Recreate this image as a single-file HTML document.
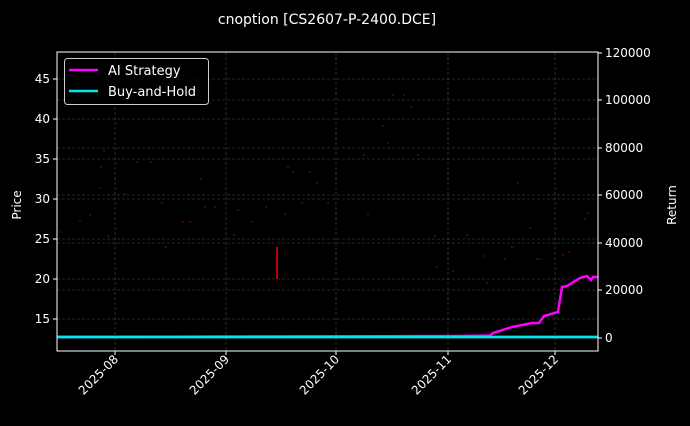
<!DOCTYPE html>
<html><head><style>
body{margin:0;background:#000;}
svg text{font-family:"DejaVu Sans","Liberation Sans",sans-serif;fill:#fff;}
</style></head><body>
<svg width="690" height="421" viewBox="0 0 690 421" xmlns="http://www.w3.org/2000/svg">
<rect width="690" height="421" fill="#000"/>
<text x="327" y="24" font-size="14" text-anchor="middle">cnoption [CS2607-P-2400.DCE]</text>
<g stroke="#4a4a4a" stroke-width="0.6" stroke-dasharray="3,2">
<line x1="57" x2="598" y1="79" y2="79"/><line x1="57" x2="598" y1="119" y2="119"/>
<line x1="57" x2="598" y1="159" y2="159"/><line x1="57" x2="598" y1="199" y2="199"/>
<line x1="57" x2="598" y1="239" y2="239"/><line x1="57" x2="598" y1="279" y2="279"/>
<line x1="57" x2="598" y1="319" y2="319"/>
<line x1="57" x2="598" y1="100" y2="100"/><line x1="57" x2="598" y1="148" y2="148"/>
<line x1="57" x2="598" y1="195" y2="195"/><line x1="57" x2="598" y1="243" y2="243"/>
<line x1="57" x2="598" y1="290" y2="290"/>
<line x1="115" x2="115" y1="52" y2="351"/><line x1="226" x2="226" y1="52" y2="351"/>
<line x1="336" x2="336" y1="52" y2="351"/><line x1="448" x2="448" y1="52" y2="351"/>
<line x1="555" x2="555" y1="52" y2="351"/>
</g>
<g fill="#5a0a0a">
<circle cx="61" cy="232" r="1"/><circle cx="80" cy="221" r="1"/><circle cx="90" cy="215" r="1"/><circle cx="100" cy="188" r="1"/><circle cx="101" cy="167" r="1"/><circle cx="104" cy="151" r="1"/><circle cx="108" cy="236" r="1"/><circle cx="115" cy="183" r="1"/><circle cx="125" cy="194" r="1"/><circle cx="137" cy="162" r="1"/><circle cx="151" cy="162" r="1"/><circle cx="162" cy="203" r="1"/><circle cx="166" cy="247" r="1"/><circle cx="183" cy="222" r="1"/><circle cx="190" cy="222" r="1"/><circle cx="201" cy="179" r="1"/><circle cx="205" cy="207" r="1"/><circle cx="215" cy="207" r="1"/><circle cx="226" cy="219" r="1"/><circle cx="234" cy="235" r="1"/><circle cx="238" cy="210" r="1"/><circle cx="252" cy="222" r="1"/><circle cx="266" cy="207" r="1"/><circle cx="285" cy="214" r="1"/><circle cx="288" cy="167" r="1"/><circle cx="293" cy="172" r="1"/><circle cx="302" cy="203" r="1"/><circle cx="310" cy="172" r="1"/><circle cx="317" cy="183" r="1"/><circle cx="328" cy="203" r="1"/><circle cx="364" cy="155" r="1"/><circle cx="368" cy="214" r="1"/><circle cx="383" cy="126" r="1"/><circle cx="388" cy="143" r="1"/><circle cx="393" cy="95" r="1"/><circle cx="404" cy="95" r="1"/><circle cx="411" cy="107" r="1"/><circle cx="418" cy="155" r="1"/><circle cx="435" cy="236" r="1"/><circle cx="437" cy="267" r="1"/><circle cx="453" cy="271" r="1"/><circle cx="465" cy="199" r="1"/><circle cx="467" cy="235" r="1"/><circle cx="483" cy="256" r="1"/><circle cx="487" cy="283" r="1"/><circle cx="505" cy="259" r="1"/><circle cx="512" cy="247" r="1"/><circle cx="518" cy="183" r="1"/><circle cx="530" cy="228" r="1"/><circle cx="537" cy="259" r="1"/><circle cx="540" cy="259" r="1"/><circle cx="563" cy="255" r="1"/><circle cx="569" cy="252" r="1"/><circle cx="585" cy="219" r="1"/><circle cx="588" cy="213" r="1"/>
</g>
<line x1="277" y1="247" x2="277" y2="279" stroke="#ff0000" stroke-width="1.5"/>
<polyline fill="none" stroke="#ff00ff" stroke-width="2.5" points="57,337 460,336 490,335.5 493,333 512,327 532,323 539,323 544,316 558,312 562,287 567,286 580,278 587,276 591,280 593,277 598,277"/>
<line x1="57" x2="598" y1="337" y2="337" stroke="#00e5ee" stroke-width="2.8"/>
<rect x="57" y="52" width="541" height="299" fill="none" stroke="#fff" stroke-width="1"/>
<g stroke="#fff" stroke-width="1">
<line x1="53" x2="57" y1="79" y2="79"/><line x1="53" x2="57" y1="119" y2="119"/><line x1="53" x2="57" y1="159" y2="159"/><line x1="53" x2="57" y1="199" y2="199"/><line x1="53" x2="57" y1="239" y2="239"/><line x1="53" x2="57" y1="279" y2="279"/><line x1="53" x2="57" y1="319" y2="319"/>
<line x1="598" x2="602" y1="53" y2="53"/><line x1="598" x2="602" y1="100" y2="100"/><line x1="598" x2="602" y1="148" y2="148"/><line x1="598" x2="602" y1="195" y2="195"/><line x1="598" x2="602" y1="243" y2="243"/><line x1="598" x2="602" y1="290" y2="290"/><line x1="598" x2="602" y1="338" y2="338"/>
<line x1="115" x2="115" y1="351" y2="355"/><line x1="226" x2="226" y1="351" y2="355"/><line x1="336" x2="336" y1="351" y2="355"/><line x1="448" x2="448" y1="351" y2="355"/><line x1="555" x2="555" y1="351" y2="355"/>
</g>
<g font-size="12" text-anchor="end">
<text x="50" y="83">45</text><text x="50" y="123">40</text><text x="50" y="163">35</text><text x="50" y="203">30</text><text x="50" y="243">25</text><text x="50" y="283">20</text><text x="50" y="323">15</text>
</g>
<g font-size="12">
<text x="605" y="57">120000</text><text x="605" y="104">100000</text><text x="605" y="152">80000</text><text x="605" y="199">60000</text><text x="605" y="247">40000</text><text x="605" y="294">20000</text><text x="605" y="342">0</text>
</g>
<g font-size="12" text-anchor="end">
<text transform="translate(119,360) rotate(-45)">2025-08</text>
<text transform="translate(230,360) rotate(-45)">2025-09</text>
<text transform="translate(340,360) rotate(-45)">2025-10</text>
<text transform="translate(452,360) rotate(-45)">2025-11</text>
<text transform="translate(559,360) rotate(-45)">2025-12</text>
</g>
<text transform="translate(21,205) rotate(-90)" font-size="12" text-anchor="middle">Price</text>
<text transform="translate(676,205) rotate(-90)" font-size="12" text-anchor="middle">Return</text>
<rect x="64.5" y="58.5" width="144" height="46" rx="3" fill="#000" fill-opacity="0.8" stroke="#ccc" stroke-width="1"/>
<line x1="69" x2="98" y1="70" y2="70" stroke="#ff00ff" stroke-width="2.5"/>
<line x1="69" x2="98" y1="91" y2="91" stroke="#00e5ee" stroke-width="2.5"/>
<text x="108" y="75" font-size="13">AI Strategy</text>
<text x="108" y="96" font-size="13">Buy-and-Hold</text>
</svg>
</body></html>
